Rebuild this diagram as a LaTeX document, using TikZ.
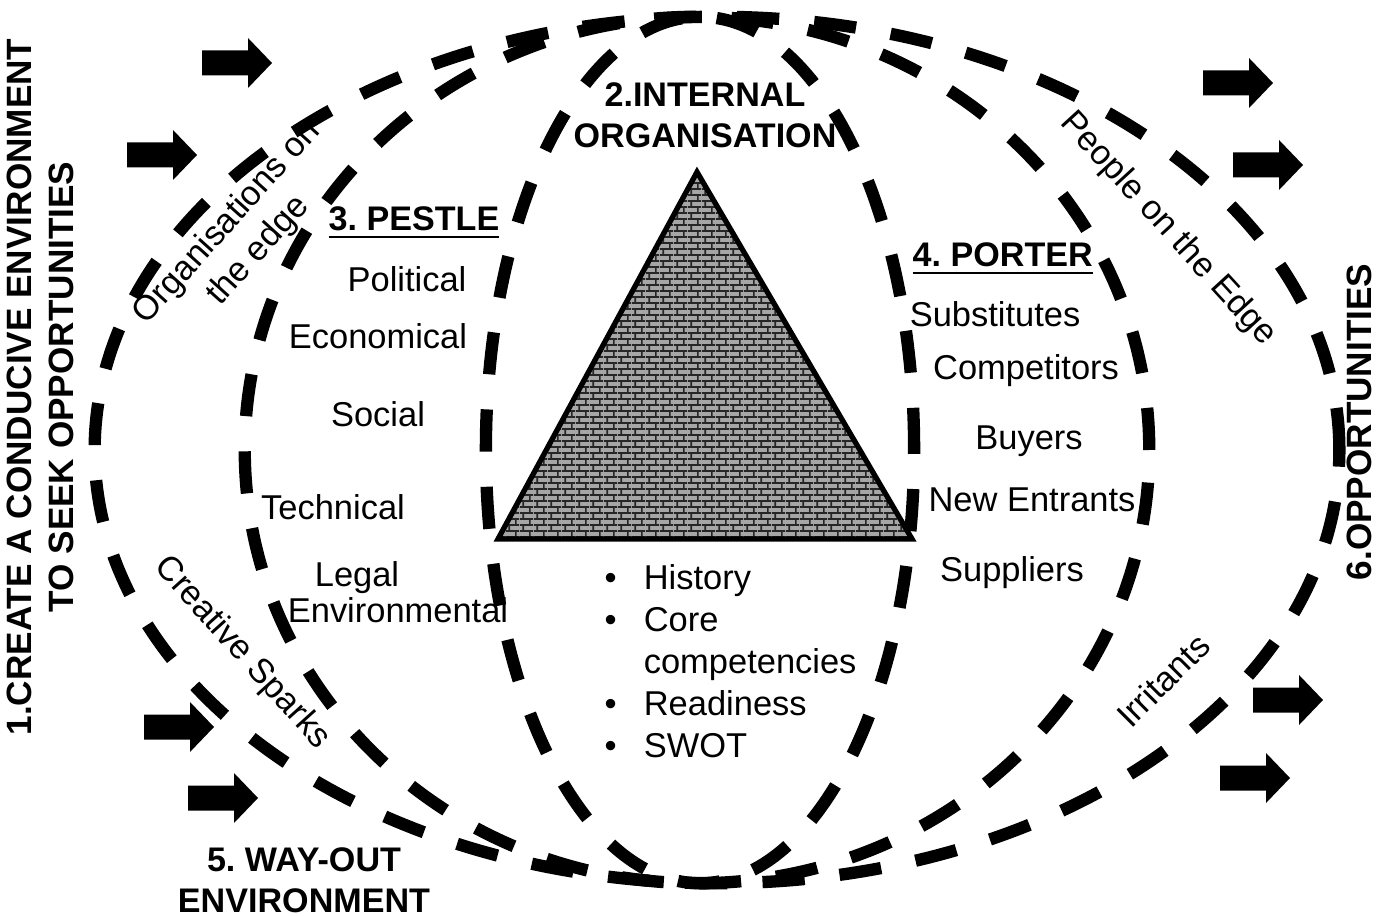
\documentclass[tikz,border=0pt]{standalone}
\usepackage{fontspec}
\setmainfont{Liberation Sans}
\usetikzlibrary{patterns}
\frenchspacing

% small bricks for the pyramid
\pgfdeclarepatternformonly{finebricks}{\pgfpointorigin}{\pgfpoint{4pt}{3.4pt}}{\pgfpoint{4pt}{3.4pt}}{%
  \pgfsetlinewidth{0.5pt}%
  \pgfpathmoveto{\pgfpoint{0pt}{0.85pt}}\pgfpathlineto{\pgfpoint{4pt}{0.85pt}}%
  \pgfpathmoveto{\pgfpoint{0pt}{2.55pt}}\pgfpathlineto{\pgfpoint{4pt}{2.55pt}}%
  \pgfpathmoveto{\pgfpoint{1pt}{0.85pt}}\pgfpathlineto{\pgfpoint{1pt}{2.55pt}}%
  \pgfpathmoveto{\pgfpoint{3pt}{2.55pt}}\pgfpathlineto{\pgfpoint{3pt}{3.4pt}}%
  \pgfpathmoveto{\pgfpoint{3pt}{0pt}}\pgfpathlineto{\pgfpoint{3pt}{0.85pt}}%
  \pgfusepath{stroke}}

\newcommand{\ulhead}[1]{\sbox0{#1}\rlap{\rule[-2.05pt]{\wd0}{0.7pt}}\usebox0}

\begin{document}
\begin{tikzpicture}[
  x=0.01cm, y=-0.01cm,
  ring/.style={line width=3.5pt, dash pattern=on 12pt off 10pt},
  txt/.style={font=\fontsize{9.8}{11.9}\selectfont, inner sep=0pt},
  headtxt/.style={font=\fontsize{9.7}{11.6}\selectfont\bfseries, inner sep=0pt, align=center},
  sidetxt/.style={headtxt, font=\fontsize{10}{11.9}\selectfont\bfseries, rotate=90},
  blockarrow/.pic={\fill (0,-12.5) -- (46,-12.5) -- (46,-25) -- (70,0)
                         -- (46,25) -- (46,12.5) -- (0,12.5) -- cycle;},
]
  \useasboundingbox (0,0) rectangle (1376,916);

  % three dashed rings
  \draw[ring] (717,450) ellipse [x radius=6.22cm, y radius=4.33cm];
  \draw[ring] (697,450) ellipse [x radius=4.52cm, y radius=4.33cm];
  \draw[ring] (700,450) ellipse [x radius=2.14cm, y radius=4.33cm];

  % pyramid
  \coordinate (apex) at (697,172);
  \coordinate (bl) at (498,539);
  \coordinate (br) at (912,539);
  \fill[gray!70] (apex) -- (bl) -- (br) -- cycle;
  \fill[pattern=finebricks, pattern color=black!85] (apex) -- (bl) -- (br) -- cycle;
  \draw[line width=1.5pt] (apex) -- (bl) -- (br) -- cycle;

  % block arrows
  \foreach \ax/\ay in {202/63, 127/155, 144/727, 188/798,
                       1203/83, 1233/165, 1253/700, 1220/778}
    \pic at (\ax,\ay) {blockarrow};

  % outer labels
  \node[sidetxt] (create) at (40,387)
    {1.CREATE A CONDUCIVE ENVIRONMENT\\TO SEEK OPPORTUNITIES};
  \node[sidetxt] (opport) at (1359,422) {6.OPPORTUNITIES};
  \node[headtxt] (internal) at (705,115) {2.INTERNAL\\ORGANISATION};
  \node[headtxt] (wayout) at (304,880) {5. WAY-OUT\\ENVIRONMENT};

  % slanted labels between the rings
  \node[txt, align=center, rotate=48] (orgedge) at (243,237) {Organisations on\\the edge};
  \node[txt, rotate=-48] (sparks) at (242,653) {Creative Sparks};
  \node[txt, rotate=-47.5] (peopleedge) at (1168,229) {People on the Edge};
  \node[txt, rotate=45] (irritants) at (1163,680) {Irritants};

  % PESTLE
  \node[headtxt, anchor=base west] (pestle) at (328,231) {\ulhead{3. PESTLE}};
  \node[txt, anchor=base] (political) at (407,292) {Political};
  \node[txt, anchor=base] (economical) at (378,349) {Economical};
  \node[txt, anchor=base] (social) at (378,427) {Social};
  \node[txt, anchor=base] (technical) at (333,520) {Technical};
  \node[txt, anchor=base] (legal) at (357,587) {Legal};
  \node[txt, anchor=base] (environ) at (398,623) {Environmental};

  % PORTER
  \node[headtxt, anchor=base west] (porter) at (912,267) {\ulhead{4. PORTER}};
  \node[txt, anchor=base] (substitutes) at (995,327) {Substitutes};
  \node[txt, anchor=base] (competitors) at (1026,380) {Competitors};
  \node[txt, anchor=base] (buyers) at (1029,450) {Buyers};
  \node[txt, anchor=base] (entrants) at (1032,512) {New Entrants};
  \node[txt, anchor=base] (suppliers) at (1012,582) {Suppliers};

  % internal list
  \node[txt, anchor=base west] (inlist) at (604,590)
    {\begin{tabular}[t]{@{}l@{\hspace{7.7pt}}l@{}}
       \textbullet & History\\
       \textbullet & Core\\
                   & competencies\\
       \textbullet & Readiness\\
       \textbullet & SWOT
     \end{tabular}};
\end{tikzpicture}
\end{document}
